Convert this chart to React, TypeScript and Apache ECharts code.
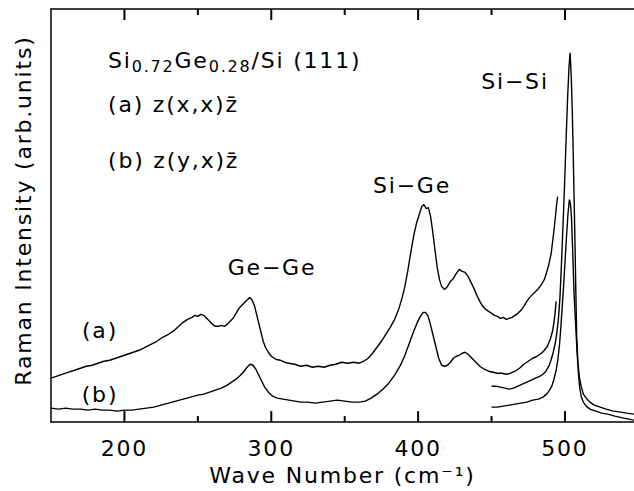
import React, { useEffect, useRef } from "react";
import * as echarts from "echarts";

const FONT = "DejaVu Sans";

// Wave number ticks
const MAJOR_TICKS = [200, 300, 400, 500];
const MINOR_TICKS = [250, 350, 450];

// Spectrum (a) z(x,x)z̄ : [wave number, intensity (arb.)]
const curveA: [number, number][] = [
  [150, 44], [154, 46], [158, 48], [162, 50], [166, 52], [170, 54], [174, 56], [178, 57], [182, 59], [186, 61],
  [190, 62], [194, 64], [198, 66], [202, 68], [206, 70], [210, 72], [214, 75], [218, 78], [222, 81], [226, 85],
  [230, 88], [234, 92], [237, 96], [240, 100], [243, 103], [246, 105], [248, 107], [250, 106], [252, 108], [254, 107],
  [256, 104], [258, 101], [260, 98], [262, 96], [264, 96], [266, 97], [268, 96], [270, 98], [272, 101], [274, 104],
  [276, 109], [278, 114], [280, 117], [282, 120], [284, 123], [285.5, 125], [287, 122], [288.5, 117], [290, 108], [291.5, 99],
  [293, 90], [294.5, 81], [296, 75], [298, 70], [300, 66], [303, 63], [306, 62], [309, 60], [312, 59], [316, 58],
  [320, 56], [324, 57], [328, 55], [332, 56], [336, 55], [340, 57], [344, 58], [348, 60], [352, 59], [356, 60],
  [360, 59], [363, 61], [366, 64], [369, 69], [372, 75], [375, 81], [378, 88], [381, 95], [384, 103], [386.5, 112],
  [389, 124], [391, 136], [393, 152], [395, 170], [397, 187], [399, 200], [401, 209], [402.5, 216], [404, 218], [405.5, 214],
  [407, 215], [408.5, 206], [410, 190], [411.5, 172], [413, 155], [414.5, 143], [416, 136], [418, 133], [420, 136], [422, 141],
  [424, 144], [426, 149], [428, 153], [430, 151], [432, 150], [434, 146], [436, 140], [438, 134], [440, 127], [442, 121],
  [444, 116], [446, 113], [448, 111], [450, 109], [452, 107], [454, 106], [456, 104], [458, 105], [460, 103], [462, 104],
  [464, 105], [466, 107], [468, 109], [470, 112], [472, 116], [474, 121], [476, 125], [478, 128], [480, 131], [482, 134],
  [484, 138], [486, 143], [487.5, 150], [489, 158], [490.5, 168], [491.5, 180], [492.5, 192], [493.5, 206], [494.3, 218], [495, 226],
];

// Spectrum (b) z(y,x)z̄
const curveB: [number, number][] = [
  [150, 14], [155, 13], [160, 14], [165, 13], [170, 13], [175, 12], [180, 13], [185, 12], [190, 12], [195, 11],
  [200, 12], [205, 12], [210, 13], [215, 14], [220, 15], [225, 17], [230, 19], [235, 21], [240, 23], [245, 25],
  [250, 27], [254, 28], [258, 30], [262, 32], [266, 34], [270, 37], [273, 40], [276, 43], [279, 47], [281.5, 51],
  [283.5, 55], [285.5, 58], [287.5, 57], [289.5, 53], [291.5, 47], [293.5, 41], [295.5, 35], [298, 30], [301, 26], [304, 24],
  [308, 23], [312, 22], [316, 21], [320, 20], [325, 20], [330, 19], [335, 20], [340, 21], [345, 22], [350, 21],
  [355, 20], [360, 20], [364, 21], [368, 24], [372, 28], [376, 33], [380, 39], [384, 47], [388, 57], [391, 67],
  [394, 79], [397, 91], [399.5, 100], [401.5, 106], [403.5, 110], [405, 110], [406.5, 107], [408, 100], [410, 88], [412, 76],
  [414, 64], [416, 57], [418, 56], [420, 57], [422, 60], [424, 64], [426, 66], [428, 67], [430, 69], [432, 70],
  [434, 68], [436, 65], [438, 62], [440, 59], [442, 56], [445, 53], [448, 51], [451, 50], [454, 49], [457, 49],
  [460, 48], [463, 49], [466, 51], [469, 54], [472, 58], [475, 61], [478, 64], [481, 66], [484, 69], [486, 72],
  [488, 76], [490, 83], [491.5, 91], [492.5, 100], [493.3, 110], [494, 121],
];

// Si–Si region, spectrum (a), reduced scale
const siSiA: [number, number][] = [
  [450, 36], [453, 36], [456, 35], [459, 34], [462, 33], [465, 34], [468, 36], [471, 38], [474, 40], [477, 42],
  [480, 44], [483, 46], [485, 48], [487, 51], [489, 56], [490.5, 62], [492, 70], [493.5, 80], [494.5, 90], [495.5, 103],
  [496.5, 123], [497.3, 148], [498, 173], [499, 210], [500, 250], [500.8, 285], [501.8, 325], [502.7, 355], [503.5, 370], [504.3, 345],
  [505, 310], [505.6, 270], [506.2, 225], [506.8, 180], [507.4, 130], [508, 85], [508.8, 60], [509.8, 45], [511, 36], [512.5, 28],
  [514.5, 24], [517, 20], [520, 17], [524, 15], [528, 13], [533, 11], [538, 10], [542, 9], [547, 8],
];

// Si–Si region, spectrum (b), reduced scale
const siSiB: [number, number][] = [
  [450, 15], [454, 15], [458, 16], [462, 17], [466, 18], [470, 19], [474, 20], [478, 22], [482, 23], [485, 25],
  [487.5, 28], [489.5, 32], [491, 36], [492.5, 43], [494, 52], [495.2, 63], [496.3, 78], [497.2, 95], [498, 113], [499, 135],
  [500, 160], [501, 185], [502, 208], [503, 223], [503.8, 218], [504.5, 203], [505.1, 178], [505.7, 150], [506.3, 125], [507, 105],
  [507.7, 85], [508.4, 66], [509.2, 48], [510, 35], [511, 26], [512.5, 20], [514.5, 16], [517, 13], [521, 11], [525, 9],
  [529, 8], [534, 6], [540, 4], [547, 2],
];

const LS = 1.8; // letter spacing px applied via CSS
const Y_MIN = 0;
const Y_MAX = 414;

export default function App() {
  const ref = useRef<HTMLDivElement>(null);
  useEffect(() => {
    if (!ref.current) return;
    const chart = echarts.init(ref.current, null, { renderer: "svg" });
    const lineSeries = (name: string, data: [number, number][]) => ({
      name,
      type: "line" as const,
      data,
      showSymbol: false,
      lineStyle: { color: "#000", width: 1.4 },
      xAxisIndex: 0,
      yAxisIndex: 0,
    });
    const tickSeries = (values: number[], len: number) => ({
      type: "custom" as const,
      xAxisIndex: 0,
      yAxisIndex: 0,
      z: 10,
      data: values.map((v) => [v, Y_MIN]),
      encode: { x: 0, y: 1 },
      renderItem: (_p: any, api: any) => {
        const x = api.value(0);
        const b = api.coord([x, Y_MIN]);
        const t = api.coord([x, Y_MAX]);
        return {
          type: "group",
          children: [
            { type: "line", shape: { x1: b[0], y1: b[1], x2: b[0], y2: b[1] - len }, style: { stroke: "#000", lineWidth: 2 } },
            { type: "line", shape: { x1: t[0], y1: t[1], x2: t[0], y2: t[1] + len }, style: { stroke: "#000", lineWidth: 2 } },
          ],
        };
      },
    });
    const txt = (text: string, x: number, y: number, align: string) => ({
      type: "text",
      x,
      y,
      style: { text, font: `22px '${FONT}'`, fill: "#000", textAlign: align, textVerticalAlign: "middle" },
    });
    chart.setOption({
      animation: false,
      backgroundColor: "#fff",
      textStyle: { fontFamily: FONT, color: "#000" },
      grid: { left: 51, right: 0, top: 9, bottom: 68 },
      xAxis: [
        {
          type: "value", min: 150, max: 547, interval: 50, splitLine: { show: false },
          position: "bottom",
          axisLine: { show: true, onZero: false, lineStyle: { color: "#000", width: 1.5 } },
          axisTick: { show: false },
          axisLabel: { show: true, customValues: [...MAJOR_TICKS], margin: 15, fontSize: 22, color: "#000", fontFamily: FONT },
          name: "Wave Number (cm\u207B\u00B9)",
          nameLocation: "middle",
          nameGap: 38,
          nameTextStyle: { fontSize: 22, color: "#000", fontFamily: FONT },
        },
        {
          type: "value", min: 150, max: 547, interval: 50, splitLine: { show: false },
          position: "top",
          axisLine: { show: true, onZero: false, lineStyle: { color: "#000", width: 1.5 } },
          axisTick: { show: false },
          axisLabel: { show: false },
        },
      ],
      yAxis: {
        type: "value",
        min: Y_MIN,
        max: Y_MAX,
        axisLine: { show: true, onZero: false, lineStyle: { color: "#000", width: 1.5 } },
        axisTick: { show: false },
        axisLabel: { show: false },
        splitLine: { show: false },
        name: "Raman Intensity (arb.units)",
        nameLocation: "middle",
        nameRotate: 90,
        nameGap: 17,
        nameTextStyle: { fontSize: 22, color: "#000", fontFamily: FONT, padding: [0, 0, 0, 10] },
      },
      series: [
        tickSeries([...MAJOR_TICKS], 11),
        tickSeries([...MINOR_TICKS], 6),
        lineSeries("(a)", curveA),
        lineSeries("(b)", curveB),
        lineSeries("(a) Si–Si", siSiA),
        lineSeries("(b) Si–Si", siSiB),
      ],
      graphic: [
        {
          type: "text",
          x: 108,
          y: 60.5,
          style: {
            text: "{n|Si}{s|0.72}{n|Ge}{s|0.28}{e|/Si (111)}",
            fill: "#000",
            textVerticalAlign: "middle",
            rich: {
              n: { fontSize: 22, lineHeight: 28, fontFamily: FONT, fill: "#000", padding: [0, 2 * LS, 0, 0] },
              e: { fontSize: 22, lineHeight: 28, fontFamily: FONT, fill: "#000" },
              s: { fontSize: 16, lineHeight: 12, verticalAlign: "bottom", fontFamily: FONT, fill: "#000", padding: [0, 4 * LS, 0, 0] },
            },
          },
        },
        txt("(a) z(x,x)z\u0304", 108, 104, "left"),
        txt("(b) z(y,x)z\u0304", 108, 160, "left"),
        txt("Si\u2212Si", 515, 81, "center"),
        txt("Si\u2212Ge", 412, 185, "center"),
        txt("Ge\u2212Ge", 272, 267, "center"),
        txt("(a)", 100, 330, "center"),
        txt("(b)", 100, 394, "center"),
      ],
    });
    return () => chart.dispose();
  }, []);
  return (
    <div
      ref={ref}
      style={{
        position: "absolute",
        left: 0,
        top: 0,
        width: 634,
        height: 491,
        letterSpacing: `${LS}px`,
      }}
    />
  );
}
